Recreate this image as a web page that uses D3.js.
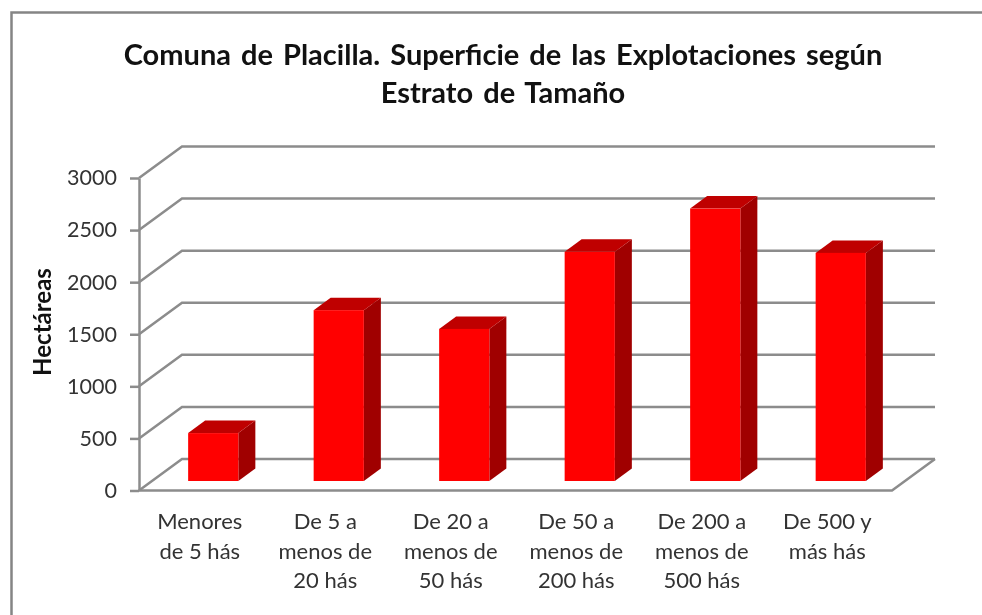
<!DOCTYPE html>
<html>
<head>
<meta charset="utf-8">
<script src="https://cdn.jsdelivr.net/npm/d3@7"></script>
<style>
  html, body { margin: 0; padding: 0; background: #fff; }
  svg { display: block; filter: blur(0.45px); }
  text { font-family: Lato, "Open Sans", sans-serif; }
</style>
</head>
<body>
<div id="chart"></div>
<script>
const CATEGORIES = ["Menores de 5 hás", "De 5 a menos de 20 hás", "De 20 a menos de 50 hás", "De 50 a menos de 200 hás", "De 200 a menos de 500 hás", "De 500 y más hás"];
const CATEGORY_LINES = [["Menores", "de 5 hás"], ["De 5 a", "menos de", "20 hás"], ["De 20 a", "menos de", "50 hás"], ["De 50 a", "menos de", "200 hás"], ["De 200 a", "menos de", "500 hás"], ["De 500 y", "más hás"]];
const HECTAREAS = [460, 1640, 1460, 2200, 2615, 2190];
const TICKS = [0, 500, 1000, 1500, 2000, 2500, 3000];
const TITLE_LINES = ["Comuna de Placilla. Superficie de las Explotaciones según", "Estrato de Tamaño"];

const width = 982, height = 615;
const GRID = "#8c8c8c";

// floor depth of the fake 3D box, and the depth of each bar
const depth = {x: 43, y: -31.5};
const barDepth = {x: 17, y: -12.5};
const barInset = {x: 11.5, y: -9.5};

const svg = d3.select("#chart").append("svg")
  .attr("width", width)
  .attr("height", height);

// outer frame, only top and left are inside the picture
svg.append("path")
  .attr("d", "M11.5,615V12.5H982")
  .attr("fill", "none")
  .attr("stroke", "#858585")
  .attr("stroke-width", 2.5);

const x = d3.scaleBand().domain(CATEGORIES).range([139, 892]).paddingInner(0.6).paddingOuter(0.3);
const y = d3.scaleLinear().domain([0, 3000]).range([490.5, 178]);

// back wall grid and side wall diagonals
const grid = svg.append("g").attr("fill", "none").attr("stroke", GRID).attr("stroke-width", 2.5);
grid.selectAll("path.wall")
  .data(TICKS)
  .enter().append("path")
    .attr("class", "wall")
    .attr("d", function(d) {
      return d3.line()([
        [x.range()[0], y(d)],
        [x.range()[0] + depth.x, y(d) + depth.y],
        [x.range()[1] + depth.x, y(d) + depth.y]
      ]);
    });

// floor front edge and right edge
grid.append("path")
  .attr("d", d3.line()([
    [x.range()[0], y(0)],
    [x.range()[1], y(0)],
    [x.range()[1] + depth.x, y(0) + depth.y]
  ]));

// value axis
const axis = svg.append("g")
  .attr("transform", "translate(" + x.range()[0] + ",0)")
  .call(d3.axisLeft(y).tickValues(TICKS).tickFormat(d3.format("d")).tickSize(9).tickSizeOuter(0).tickPadding(13));
axis.selectAll("path, line").attr("stroke", GRID).attr("stroke-width", 2.5);
axis.selectAll("text").attr("font-size", 21.5).attr("font-family", "Lato").attr("fill", "#333");

// bars: side, top, then front
const bars = svg.selectAll("g.bar")
  .data(HECTAREAS)
  .enter().append("g")
    .attr("class", "bar")
    .attr("transform", function(d, i) {
      return "translate(" + (x(CATEGORIES[i]) + barInset.x) + "," + barInset.y + ")";
    });

bars.append("path")
  .attr("fill", "#a00000")
  .attr("d", function(d) {
    const w = x.bandwidth();
    return d3.line()([
      [w, y(d)],
      [w + barDepth.x, y(d) + barDepth.y],
      [w + barDepth.x, y(0) + barDepth.y],
      [w, y(0)]
    ]) + "Z";
  });

bars.append("path")
  .attr("fill", "#bf0000")
  .attr("d", function(d) {
    const w = x.bandwidth();
    return d3.line()([
      [0, y(d)],
      [barDepth.x, y(d) + barDepth.y],
      [w + barDepth.x, y(d) + barDepth.y],
      [w, y(d)]
    ]) + "Z";
  });

bars.append("rect")
  .attr("x", 0)
  .attr("y", function(d) { return y(d); })
  .attr("width", x.bandwidth())
  .attr("height", function(d) { return y(0) - y(d); })
  .attr("fill", "#ff0000");

// category labels
svg.selectAll("text.cat")
  .data(CATEGORY_LINES)
  .enter().append("text")
    .attr("class", "cat")
    .attr("text-anchor", "middle")
    .attr("font-size", 22)
    .attr("fill", "#333")
    .attr("y", 529)
    .each(function(d, i) {
      d3.select(this).selectAll("tspan")
        .data(d)
        .enter().append("tspan")
          .attr("x", x(CATEGORIES[i]) + x.bandwidth() / 2 - 2)
          .attr("dy", function(l, j) { return j ? 29.5 : 0; })
          .text(function(l) { return l; });
    });

// titles
svg.append("text")
  .attr("text-anchor", "middle")
  .attr("font-size", 29)
  .attr("font-weight", 700)
  .attr("fill", "#111")
  .attr("word-spacing", 3)
  .selectAll("tspan")
  .data(TITLE_LINES)
  .enter().append("tspan")
    .attr("x", 503)
    .attr("y", function(d, i) { return 65 + i * 38; })
    .text(function(d) { return d; });

svg.append("text")
  .attr("transform", "translate(51,322) rotate(-90)")
  .attr("text-anchor", "middle")
  .attr("font-size", 24)
  .attr("font-weight", 700)
  .attr("fill", "#111")
  .text("Hectáreas");
</script>
</body>
</html>
